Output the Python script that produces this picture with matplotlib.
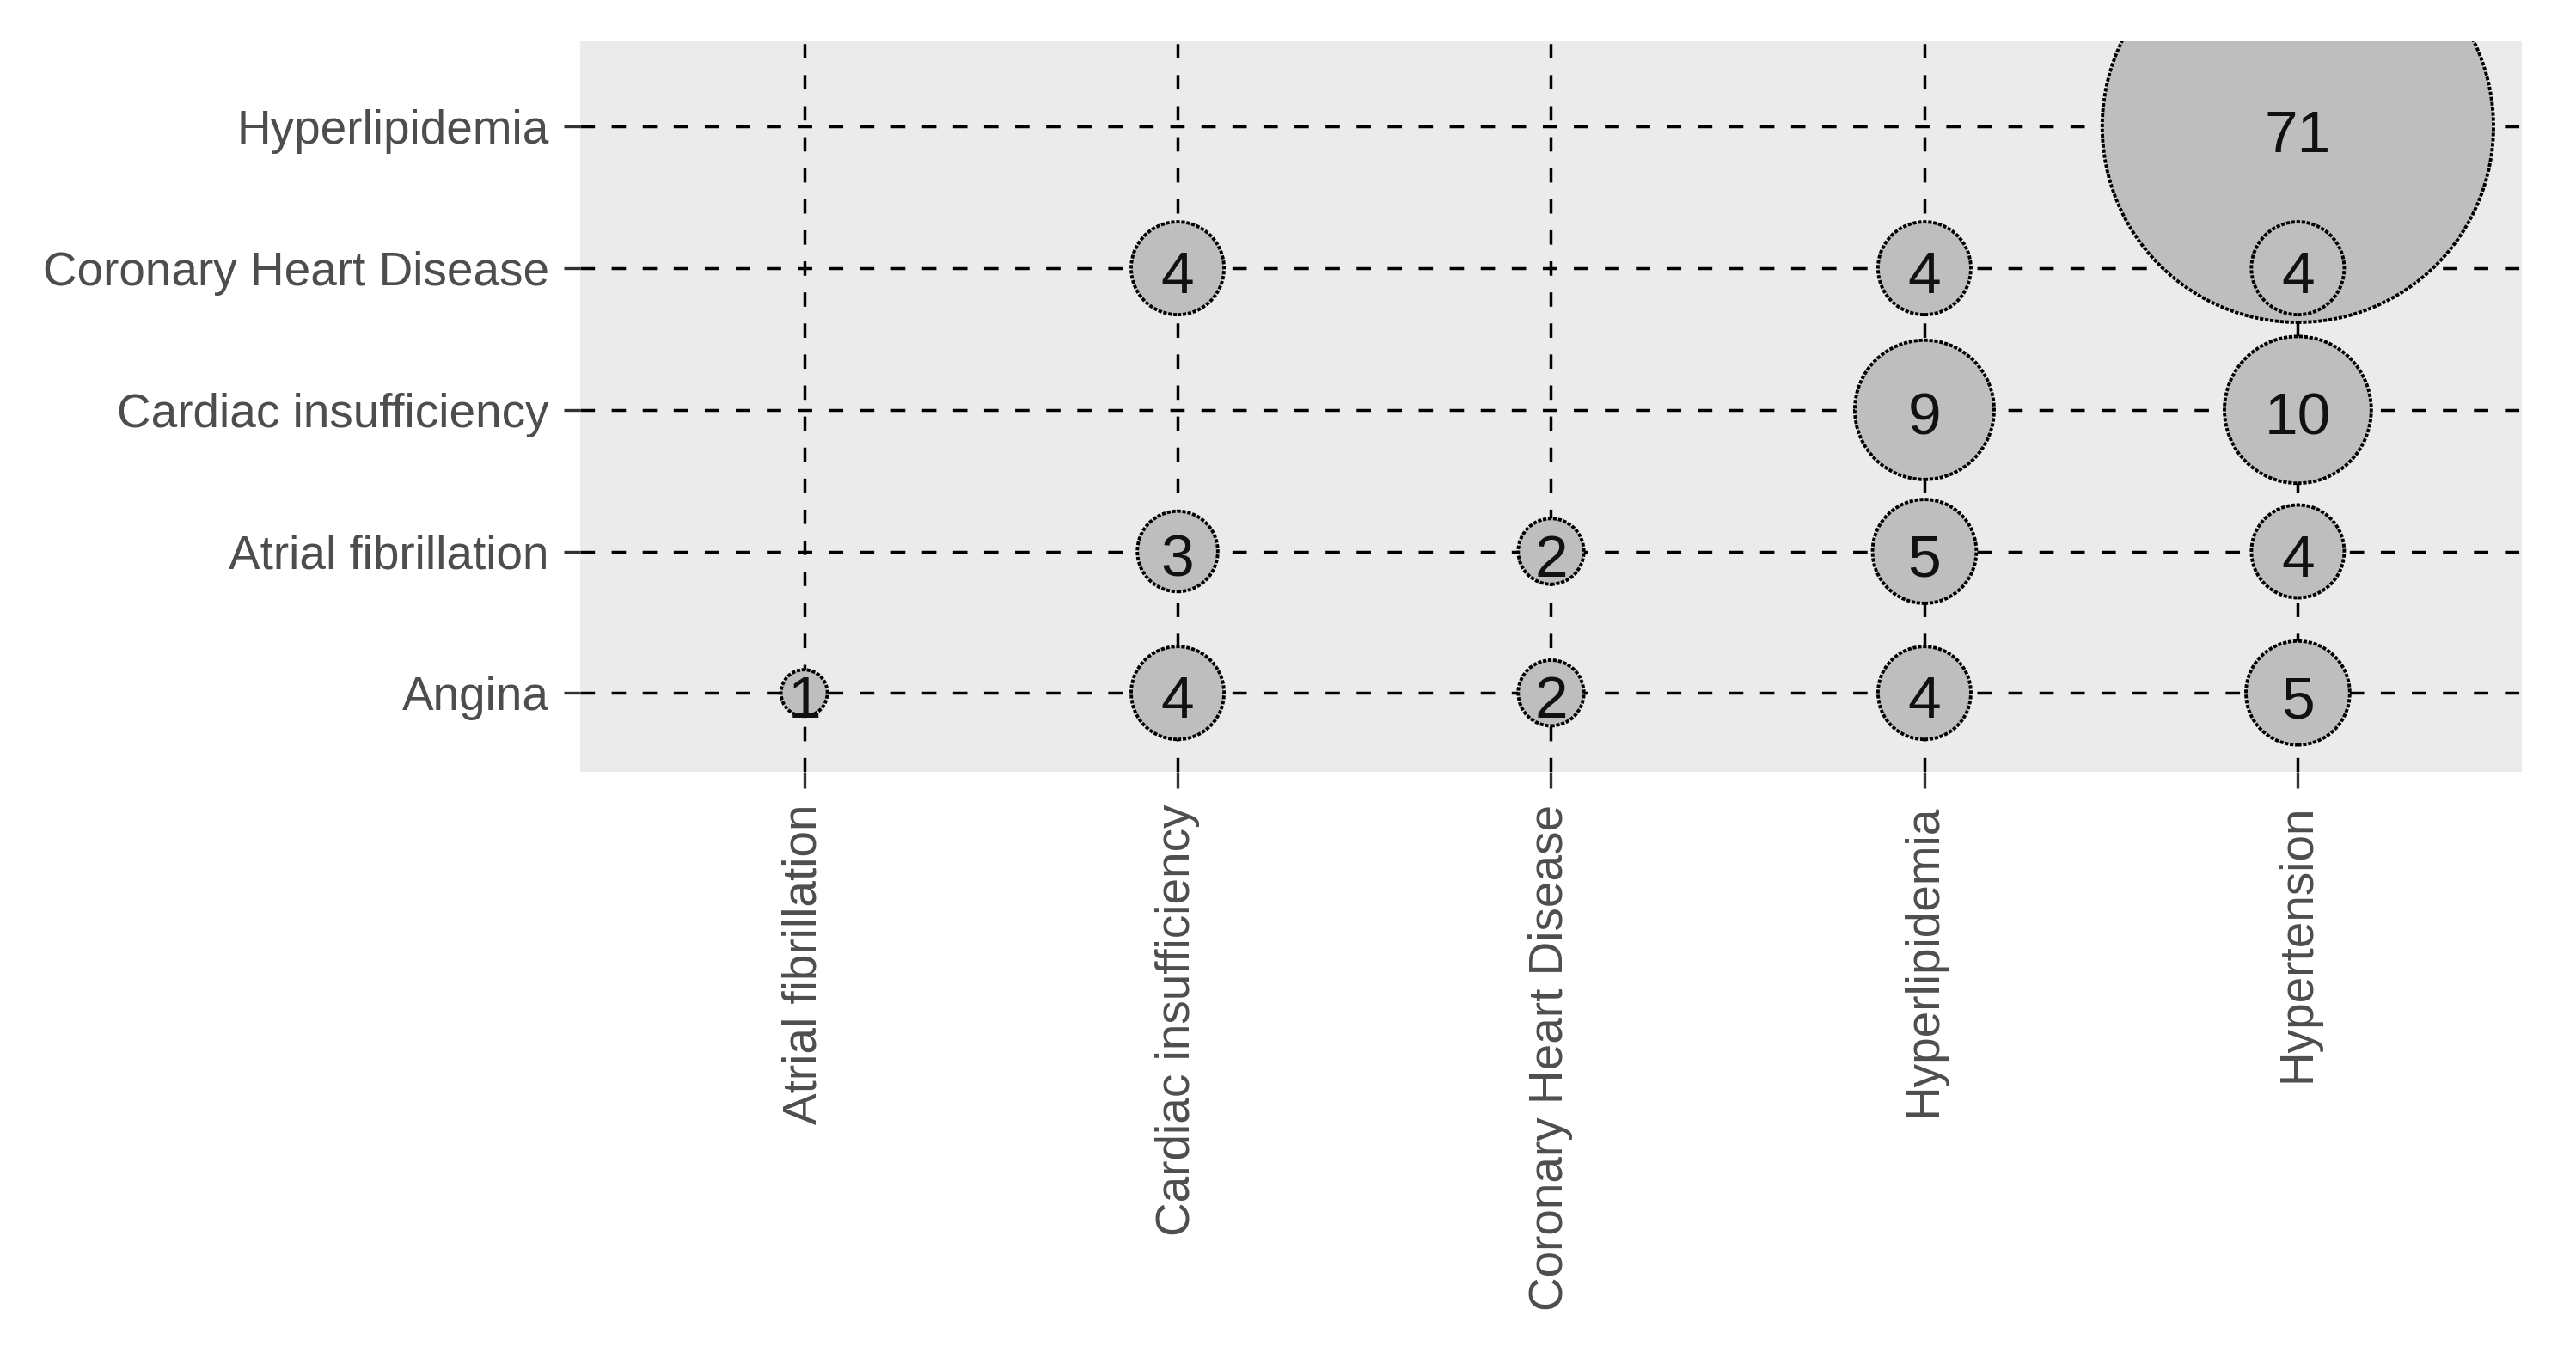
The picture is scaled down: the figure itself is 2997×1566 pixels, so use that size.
import matplotlib
matplotlib.use("Agg")
from matplotlib import pyplot as plt

plt.rcParams['font.family'] = ['Liberation Sans', 'DejaVu Sans']
plt.rcParams['lines.scale_dashes'] = False

# categories
x_cats = ["Atrial fibrillation", "Cardiac insufficiency", "Coronary Heart Disease", "Hyperlipidemia", "Hypertension"]
y_cats = ["Angina", "Atrial fibrillation", "Cardiac insufficiency", "Coronary Heart Disease", "Hyperlipidemia"]

# one entry per bubble
bub_x = ["Atrial fibrillation", "Cardiac insufficiency", "Coronary Heart Disease", "Hyperlipidemia", "Hypertension",
         "Cardiac insufficiency", "Coronary Heart Disease", "Hyperlipidemia", "Hypertension",
         "Hyperlipidemia", "Hypertension",
         "Cardiac insufficiency", "Hyperlipidemia", "Hypertension",
         "Hypertension"]
bub_y = ["Angina"] * 5 + ["Atrial fibrillation"] * 4 + ["Cardiac insufficiency"] * 2 + \
        ["Coronary Heart Disease"] * 3 + ["Hyperlipidemia"]
counts = [1, 4, 2, 4, 5,
          3, 2, 5, 4,
          9, 10,
          4, 4, 4,
          71]

# big bubbles first so the small ones sit on top
order = sorted(range(len(counts)), key=lambda i: -counts[i])
xi = [x_cats.index(bub_x[i]) + 1 for i in order]
yi = [y_cats.index(bub_y[i]) + 1 for i in order]
cs = [counts[i] for i in order]

fig = plt.figure(figsize=(29.97, 15.66), dpi=100)
ax = fig.add_axes([0.2252, 0.4266, 0.979 - 0.2252, 0.9693 - 0.4266])
ax.set_facecolor("#EBEBEB")
for s in ax.spines.values():
    s.set_visible(False)

ax.set_xlim(0.4, 5.6)
ax.set_ylim(0.443, 5.603)
ax.set_xticks(range(1, 6))
ax.set_xticklabels(x_cats, rotation=90, va="top", ha="center")
ax.set_yticks(range(1, 6))
ax.set_yticklabels(y_cats)
ax.tick_params(axis="both", length=14, width=2.4, color="#333333", labelcolor="#4D4D4D", labelsize=39.5)
ax.tick_params(axis="x", pad=13)
ax.tick_params(axis="y", pad=12)

ax.grid(True, color="black", linewidth=2.5, linestyle=(0, (12, 14)), zorder=1)
ax.set_axisbelow(True)

ax.scatter(xi, yi, s=[1513 * c for c in cs], facecolor="#BEBEBE", edgecolor="black",
           linewidths=2.8, linestyles=(0, (3, 1.3)), zorder=3)
for x, y, c in zip(xi, yi, cs):
    ax.annotate(str(c), (x, y), xytext=(0, -21), textcoords="offset points",
                ha="center", va="baseline", fontsize=50, color="#111111", zorder=4)

fig.savefig("out.png", dpi=100)
